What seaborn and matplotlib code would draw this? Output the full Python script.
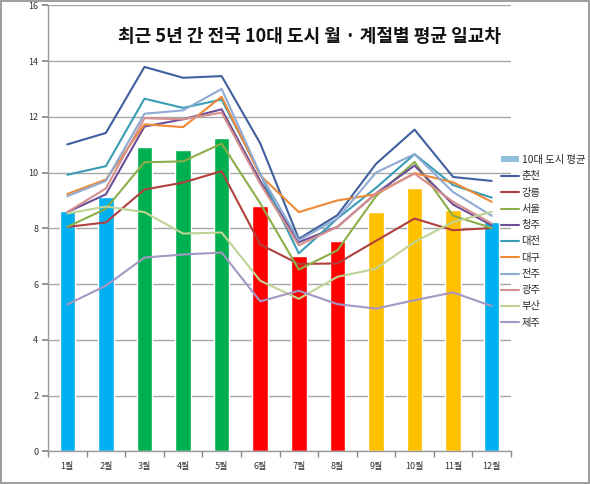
import matplotlib
matplotlib.use("Agg")
import matplotlib.pyplot as plt
from matplotlib.patches import Patch, Rectangle
from matplotlib.lines import Line2D
import numpy as np
import pandas as pd
import seaborn as sns

months = ['1월', '2월', '3월', '4월', '5월', '6월', '7월', '8월', '9월', '10월', '11월', '12월']
avg = [8.61, 9.12, 10.90, 10.81, 11.24, 8.80, 7.00, 7.54, 8.58, 9.46, 8.65, 8.22]
bar_colors = ['#00B0F0', '#00B0F0', '#00B050', '#00B050', '#00B050', '#FF0000',
              '#FF0000', '#FF0000', '#FFC000', '#FFC000', '#FFC000', '#00B0F0']

cities = ['춘천', '강릉', '서울', '청주', '대전', '대구', '전주', '광주', '부산', '제주']
chuncheon = [11.01, 11.42, 13.79, 13.40, 13.46, 11.05, 7.62, 8.47, 10.31, 11.54, 9.84, 9.70]
gangneung = [8.05, 8.21, 9.39, 9.64, 10.05, 7.42, 6.72, 6.74, 7.55, 8.35, 7.93, 8.01]
seoul = [8.05, 8.70, 10.37, 10.40, 11.04, 8.90, 6.52, 7.21, 9.15, 10.38, 8.45, 8.01]
cheongju = [8.58, 9.22, 11.65, 11.91, 12.27, 9.70, 7.50, 8.05, 9.25, 10.25, 8.85, 8.11]
daejeon = [9.92, 10.23, 12.65, 12.32, 12.62, 9.95, 7.10, 8.35, 9.45, 10.66, 9.55, 9.10]
daegu = [9.23, 9.75, 11.73, 11.63, 12.72, 9.90, 8.58, 9.00, 9.22, 9.98, 9.65, 8.95]
jeonju = [9.15, 9.70, 12.11, 12.23, 13.00, 9.95, 7.57, 8.35, 10.00, 10.66, 9.30, 8.45]
gwangju = [8.58, 9.43, 11.95, 11.91, 12.15, 9.60, 7.39, 8.05, 9.25, 9.96, 8.95, 8.17]
busan = [8.53, 8.78, 8.58, 7.81, 7.85, 6.12, 5.47, 6.26, 6.55, 7.51, 8.23, 8.59]
jeju = [5.27, 5.94, 6.95, 7.06, 7.13, 5.38, 5.76, 5.28, 5.12, 5.42, 5.70, 5.21]
series = [chuncheon, gangneung, seoul, cheongju, daejeon, daegu, jeonju, gwangju, busan, jeju]
line_colors = ['#3F5F9F', '#B0403D', '#8CAE48', '#6B4E96', '#3A9DB5', '#EE8A36',
               '#90AAD6', '#D58F8C', '#BED394', '#A696C4']
avg_label = '10대 도시 평균'
title = '최근 5년 간 전국 10대 도시 월 · 계절별 평균 일교차'

sns.set_theme(style='white')
plt.rcParams['font.family'] = ['Noto Sans CJK KR', 'DejaVu Sans']

fig = plt.figure(figsize=(5.9, 4.84), dpi=100)
ax = fig.add_axes([48 / 590, 1 - 451.3 / 484, (511 - 48) / 590, (451.3 - 5.3) / 484])

bar_df = pd.DataFrame({'month': months, 'avg': avg})
sns.barplot(data=bar_df, x='month', y='avg', hue='month', order=months,
            palette=dict(zip(months, bar_colors)), legend=False, width=0.4,
            saturation=1, ax=ax, zorder=2)

rows = []
for c, vals in zip(cities, series):
    for i, v in enumerate(vals):
        rows.append({'city': c, 'pos': i, 'value': v})
line_df = pd.DataFrame(rows)
sns.lineplot(data=line_df, x='pos', y='value', hue='city', hue_order=cities,
             palette=dict(zip(cities, line_colors)), linewidth=1.5, legend=False,
             ax=ax, zorder=3)

ax.set_xlim(-0.5, 11.5)
ax.set_ylim(0, 16)
ax.set_xlabel('')
ax.set_ylabel('')
ax.set_yticks(np.arange(0, 17, 2))
ax.set_yticklabels([str(v) for v in range(0, 17, 2)], fontsize=6.5, color='#333333')
ax.set_xticks(np.arange(12))
ax.set_xticklabels(months, fontsize=6.5, color='#333333')
ax.set_xticks(np.arange(-0.5, 12, 1), minor=True)
ax.tick_params(axis='x', which='major', length=0, pad=8)
ax.tick_params(axis='x', which='minor', length=4, color='#888888', direction='out', bottom=True)
ax.tick_params(axis='y', which='major', length=4, color='#888888', direction='out', left=True, pad=3)
ax.yaxis.grid(True, color='#A6A6A6', linewidth=1)
ax.set_axisbelow(True)
for s in ['top', 'right']:
    ax.spines[s].set_visible(False)
for s in ['left', 'bottom']:
    ax.spines[s].set_color('#9A9A9A')
    ax.spines[s].set_linewidth(1)

fig.text(118 / 590, 1 - 37 / 484, title, fontsize=13.0, fontweight='bold',
         ha='left', va='center', color='#111111')

handles = [Patch(facecolor='#92C0DC', edgecolor='none')]
handles += [Line2D([0], [0], color=c, linewidth=1.5) for c in line_colors]
labels = [avg_label] + cities
fig.legend(handles, labels, loc='upper left', bbox_to_anchor=(501 / 590, 1 - 155 / 484),
           frameon=False, fontsize=7.4, handlelength=1.75, handleheight=0.5,
           labelspacing=0.61, handletextpad=0.25, borderaxespad=0, borderpad=0)

fig.patches.append(Rectangle((0.002, 0.002), 0.996, 0.996, transform=fig.transFigure,
                             fill=False, edgecolor='#8C8C8C', linewidth=1.2))

fig.savefig('out.png', dpi=100)
